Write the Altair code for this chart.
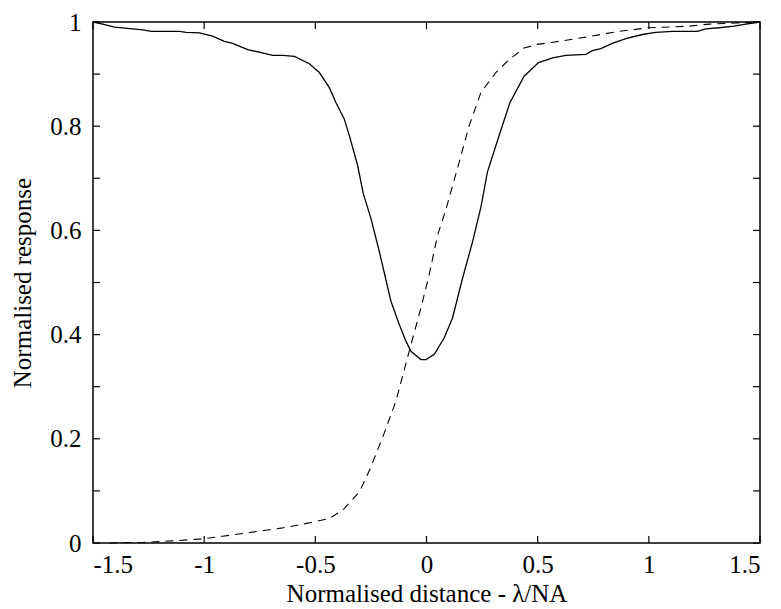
import altair as alt
import pandas as pd

# Solid curve (response)
solid_x = [-1.5, -1.456, -1.403, -1.321, -1.276, -1.238, -1.111, -1.081, -1.021, -0.962,
           -0.909, -0.872, -0.804, -0.752, -0.692, -0.647, -0.594, -0.527, -0.482, -0.437,
           -0.407, -0.370, -0.347, -0.310, -0.284, -0.250, -0.212, -0.160, -0.122, -0.092,
           -0.070, -0.025, -0.002, 0.035, 0.080, 0.117, 0.162, 0.207, 0.245, 0.274,
           0.319, 0.375, 0.439, 0.504, 0.567, 0.627, 0.717, 0.746, 0.784, 0.836,
           0.896, 0.971, 1.031, 1.106, 1.218, 1.256, 1.316, 1.383, 1.436, 1.5]
solid_y = [1.0, 0.996, 0.990, 0.987, 0.985, 0.982, 0.982, 0.980, 0.979, 0.973,
           0.963, 0.959, 0.947, 0.942, 0.936, 0.936, 0.934, 0.920, 0.903, 0.874,
           0.845, 0.814, 0.782, 0.725, 0.670, 0.623, 0.559, 0.464, 0.419, 0.387,
           0.368, 0.352, 0.352, 0.362, 0.394, 0.432, 0.508, 0.578, 0.645, 0.712,
           0.772, 0.845, 0.896, 0.922, 0.931, 0.936, 0.938, 0.945, 0.949, 0.959,
           0.968, 0.976, 0.980, 0.982, 0.982, 0.987, 0.989, 0.992, 0.996, 1.0]

# Dashed curve (edge response)
dashed_x = [-1.426, -1.366, -1.276, -1.141, -1.007, -0.917, -0.797, -0.647, -0.557, -0.437,
            -0.377, -0.302, -0.257, -0.197, -0.137, -0.078, -0.025, 0.012, 0.050, 0.087,
            0.147, 0.192, 0.245, 0.312, 0.372, 0.439, 0.499, 0.567, 0.717, 0.866,
            1.001, 1.181, 1.271, 1.391, 1.496]
dashed_y = [0.0, 0.001, 0.001, 0.004, 0.008, 0.013, 0.020, 0.029, 0.036, 0.047,
            0.063, 0.098, 0.139, 0.203, 0.273, 0.368, 0.451, 0.515, 0.591, 0.640,
            0.731, 0.801, 0.865, 0.903, 0.928, 0.950, 0.957, 0.961, 0.971, 0.982,
            0.989, 0.992, 0.996, 0.998, 1.0]

x_ticks = [-1.5, -1.0, -0.5, 0.0, 0.5, 1.0, 1.5]
y_labels = [0, 0.2, 0.4, 0.6, 0.8, 1]
y_ticks = [0, 0.1, 0.2, 0.3, 0.4, 0.5, 0.6, 0.7, 0.8, 0.9, 1.0]

W, H = 667, 521
FONT = "Liberation Serif"

solid_df = pd.DataFrame({"x": solid_x, "y": solid_y, "i": range(len(solid_x))})
dashed_df = pd.DataFrame({"x": dashed_x, "y": dashed_y, "i": range(len(dashed_x))})
xt_df = pd.DataFrame({"t": x_ticks})
yt_df = pd.DataFrame({"t": y_ticks})

xscale = alt.Scale(domain=[-1.5, 1.5], nice=False, zero=False)
yscale = alt.Scale(domain=[0, 1], nice=False)

xaxis = alt.Axis(values=x_ticks, labelExpr="datum.value + ''", ticks=False, domain=False,
                 grid=False, labelPadding=9, title="Normalised distance - λ/NA",
                 titlePadding=4)
yaxis = alt.Axis(values=y_labels, labelExpr="datum.value + ''", ticks=False, domain=False,
                 grid=False, labelPadding=12, title="Normalised response",
                 titlePadding=14)

solid = alt.Chart(solid_df).mark_line(color="black", strokeWidth=1.3).encode(
    x=alt.X("x:Q", scale=xscale, axis=xaxis),
    y=alt.Y("y:Q", scale=yscale, axis=yaxis),
    order="i:Q",
)
dashed = alt.Chart(dashed_df).mark_line(color="black", strokeWidth=1.1, strokeDash=[8, 6]).encode(
    x=alt.X("x:Q", scale=xscale),
    y=alt.Y("y:Q", scale=yscale),
    order="i:Q",
)

TL = 7
xt_bottom = alt.Chart(xt_df).mark_rule(color="black", strokeWidth=1.2).encode(
    x=alt.X("t:Q", scale=xscale), y=alt.value(H), y2=alt.value(H - TL))
xt_top = alt.Chart(xt_df).mark_rule(color="black", strokeWidth=1.2).encode(
    x=alt.X("t:Q", scale=xscale), y=alt.value(0), y2=alt.value(TL))
yt_left = alt.Chart(yt_df).mark_rule(color="black", strokeWidth=1.2).encode(
    y=alt.Y("t:Q", scale=yscale), x=alt.value(0), x2=alt.value(TL))
yt_right = alt.Chart(yt_df).mark_rule(color="black", strokeWidth=1.2).encode(
    y=alt.Y("t:Q", scale=yscale), x=alt.value(W), x2=alt.value(W - TL))

chart = alt.layer(solid, dashed, xt_bottom, xt_top, yt_left, yt_right).properties(
    width=W, height=H,
    background="white",
    autosize=alt.AutoSizeParams(type="none"),
    padding={"left": 85, "top": 14, "right": 12, "bottom": 63},
).configure_view(
    stroke="black", strokeWidth=1.5
).configure_axis(
    labelFont=FONT, titleFont=FONT, labelFontSize=25, titleFontSize=25,
    labelColor="black", titleColor="black", titleFontWeight="normal",
)

chart.save("out.html", embed_options={"renderer": "svg", "actions": False})
